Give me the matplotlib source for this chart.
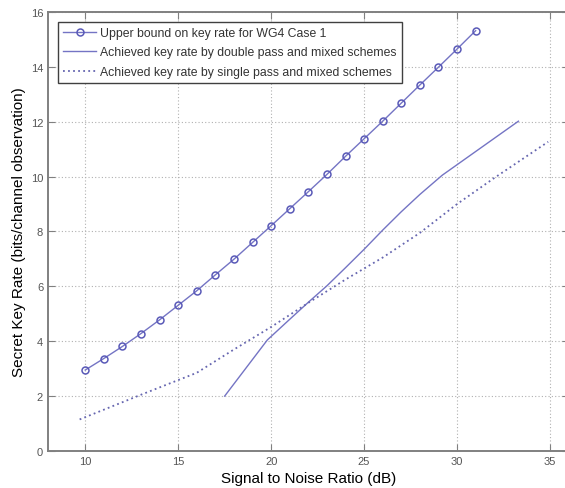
import matplotlib
matplotlib.use('Agg')
import matplotlib.pyplot as plt

plt.rcParams['font.family'] = ['Liberation Sans', 'DejaVu Sans']

# upper bound, one point per dB
snr_ub = [10, 11, 12, 13, 14, 15, 16, 17, 18, 19, 20,
          21, 22, 23, 24, 25, 26, 27, 28, 29, 30, 31]
rate_ub = [2.95, 3.37, 3.81, 4.28, 4.78, 5.31, 5.84, 6.42, 6.99, 7.6, 8.21,
           8.83, 9.45, 10.08, 10.74, 11.38, 12.02, 12.68, 13.34, 13.99, 14.65, 15.32]

# double pass + mixed
snr_dp = [17.5, 19.8, 21, 22, 23, 24, 25, 26, 27, 28, 29.2, 33.3]
rate_dp = [2.0, 4.05, 4.8, 5.42, 6.02, 6.68, 7.35, 8.05, 8.72, 9.35, 10.05, 12.02]

# single pass + mixed
snr_sp = [9.7, 13, 16, 18, 20, 22, 24, 26, 28, 30, 32, 34.9]
rate_sp = [1.15, 2.05, 2.85, 3.7, 4.52, 5.4, 6.25, 7.05, 7.95, 9.0, 9.95, 11.27]

labels = ['Upper bound on key rate for WG4 Case 1',
          'Achieved key rate by double pass and mixed schemes',
          'Achieved key rate by single pass and mixed schemes']

col = '#7474c4'

fig = plt.figure(figsize=(5.65, 4.89), dpi=100)
ax = fig.add_axes([0.085, 0.0757, 0.9214, 0.8977])

ax.plot(snr_ub, rate_ub, color=col, lw=1, marker='o', ms=5,
        mfc='none', mec='#5a5ab8', mew=1.1, label=labels[0])
ax.plot(snr_dp, rate_dp, color=col, lw=1, label=labels[1])
ax.plot(snr_sp, rate_sp, color='#6666b0', lw=1.3, ls=(0, (1, 1.8)), label=labels[2])

ax.set_xlim(8, 36)
ax.set_ylim(0, 16)
ax.set_xticks([10, 15, 20, 25, 30, 35])
ax.set_yticks(range(0, 17, 2))
ax.grid(True, color='#b0b0b0', ls=(0, (1, 2)), lw=0.8)
ax.tick_params(direction='in', top=True, right=True, length=5,
               labelsize=8, labelcolor='#555555', color='#808080')
for s in ax.spines.values():
    s.set_color('#808080')
    s.set_linewidth(1.4)

ax.set_xlabel('Signal to Noise Ratio (dB)', fontsize=11, labelpad=4)
ax.set_ylabel('Secret Key Rate (bits/channel observation)', fontsize=11, labelpad=3)

leg = ax.legend(loc='upper left', bbox_to_anchor=(0.019, 0.978), borderaxespad=0,
                fontsize=8.8, fancybox=False, edgecolor='#404040', framealpha=1,
                handlelength=2.7, handletextpad=0.3, labelspacing=0.6,
                borderpad=0.45)
leg.get_frame().set_linewidth(1.0)
for t in leg.get_texts():
    t.set_color('#333333')

fig.savefig('out.png', dpi=100)
